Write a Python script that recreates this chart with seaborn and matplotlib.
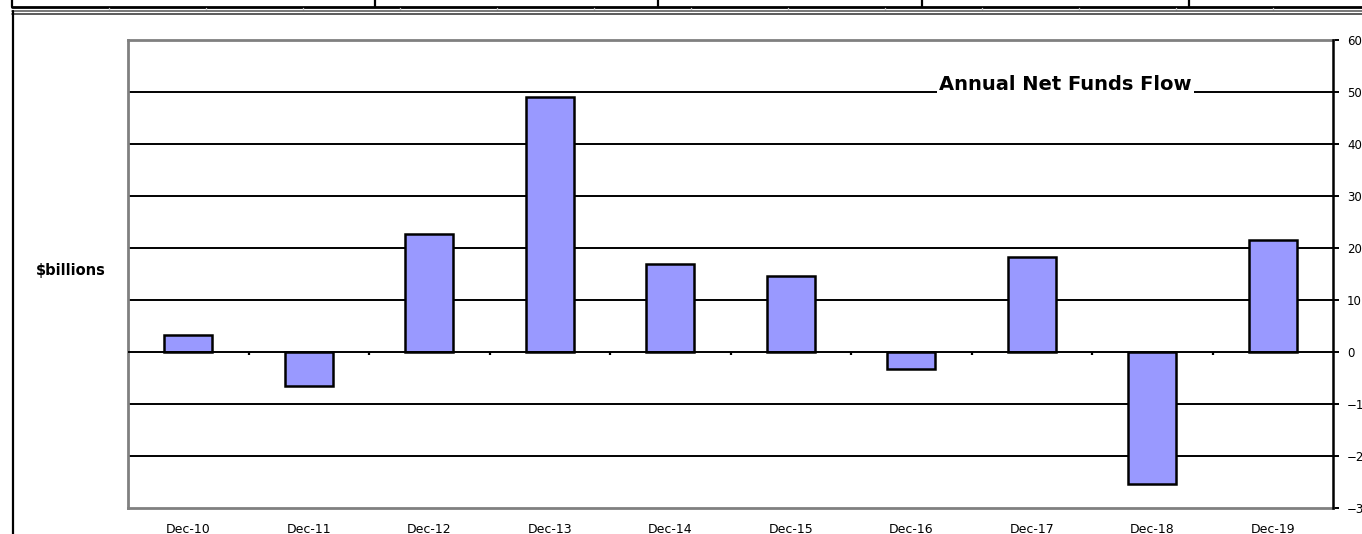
import numpy as np
import seaborn as sns
import matplotlib.pyplot as plt
from matplotlib.lines import Line2D

# data ($billions)
years = ["Dec-10", "Dec-11", "Dec-12", "Dec-13", "Dec-14",
         "Dec-15", "Dec-16", "Dec-17", "Dec-18", "Dec-19"]
flows = [3.3, -6.5, 22.7, 49.0, 16.9, 14.6, -3.3, 18.3, -25.4, 21.5]
yticks = [-30, -20, -10, 0, 10, 20, 30, 40, 50, 60]

sns.set_style("white")
plt.rcParams['font.family'] = ['DejaVu Sans']
plt.rcParams['text.color'] = 'black'
plt.rcParams['xtick.color'] = 'black'
plt.rcParams['ytick.color'] = 'black'

W, H = 1362, 534
fig = plt.figure(figsize=(W / 100, H / 100), dpi=100)
ax = fig.add_axes([128 / W, 1 - 508 / H, (1333 - 128) / W, (508 - 40) / H])

# gridlines first so bars sit on top
for v in [-20, -10, 10, 20, 30, 40, 50]:
    ax.axhline(v, color="black", lw=1.4, zorder=0)

sns.barplot(x=years, y=flows, color="#9999ff", saturation=1, width=0.4,
            edgecolor="black", linewidth=1.8, ax=ax, zorder=2)

ax.axhline(0, color="black", lw=1.4, zorder=3)
# small ticks on the zero line between categories
ax.vlines(np.arange(0.5, len(years) - 0.5), 0, -0.6, color="black", lw=1.6, zorder=3)

ax.set_ylim(-30, 60)
ax.set_xlim(-0.5, len(years) - 0.5)
ax.set_yticks(yticks)
ax.yaxis.tick_right()
ax.tick_params(axis="y", right=True, direction="out", length=4, width=1.4,
               color="black", labelcolor="black", labelsize=8.5, pad=6)
ax.tick_params(axis="x", bottom=False, labelcolor="black", labelsize=9, pad=7)
ax.set_xlabel("")
ax.set_ylabel("")

for s in ["left", "top", "bottom"]:
    ax.spines[s].set_color("#808080")
    ax.spines[s].set_linewidth(2)
ax.spines["right"].set_color("black")
ax.spines["right"].set_linewidth(1.8)
ax.spines["right"].set_zorder(4)

ax.text(7.28, 51.4, "Annual Net Funds Flow", ha="center", va="center",
        fontsize=14, fontweight="heavy", color="black", zorder=5,
        bbox=dict(facecolor="white", edgecolor="none", pad=2))

fig.text(71 / W, 1 - 271 / H, "$billions", ha="center", va="center",
         fontsize=10.5, fontweight="bold", color="black")

# surrounding frame and the table border strip on top
def px_line(xs, ys, **kw):
    fig.add_artist(Line2D([x / W for x in xs], [1 - y / H for y in ys],
                          transform=fig.transFigure, **kw))

px_line([12, W], [6.5, 6.5], color="black", lw=2)
for x in [12, 375, 658, 922, 1189]:
    px_line([x, x], [0, 6.5], color="black", lw=1.6)
for x in range(109, W, 97):
    px_line([x, x], [7.5, 10], color="#c8c8c8", lw=1)
px_line([12, W], [11, 11], color="#606060", lw=1.2)
px_line([12, W], [13.5, 13.5], color="#404040", lw=1.2)
px_line([13, 13], [11, H], color="black", lw=1.6)

fig.savefig("out.png", dpi=100)
